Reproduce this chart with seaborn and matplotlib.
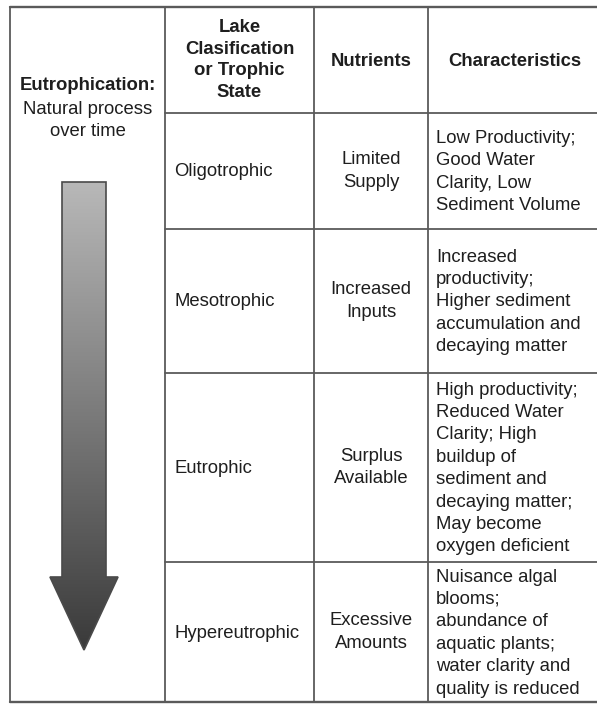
import numpy as np
import matplotlib
matplotlib.use("Agg")
import matplotlib.pyplot as plt
from matplotlib.patches import Polygon
from matplotlib.colors import LinearSegmentedColormap
import seaborn as sns

# table content
headers = ["Lake\nClasification\nor Trophic\nState", "Nutrients", "Characteristics"]
states = ["Oligotrophic", "Mesotrophic", "Eutrophic", "Hypereutrophic"]
nutrients = ["Limited\nSupply", "Increased\nInputs", "Surplus\nAvailable", "Excessive\nAmounts"]
characteristics = [
    ["Low Productivity;", "Good Water", "Clarity, Low", "Sediment Volume"],
    ["Increased", "productivity;", "Higher sediment", "accumulation and", "decaying matter"],
    ["High productivity;", "Reduced Water", "Clarity; High", "buildup of", "sediment and",
     "decaying matter;", "May become", "oxygen deficient"],
    ["Nuisance algal", "blooms;", "abundance of", "aquatic plants;", "water clarity and",
     "quality is reduced"],
]
side_title = "Eutrophication:"
side_lines = ["Natural process", "over time"]

# layout (pixels)
W, H = 597, 704
col_x = [10, 165, 314, 428, 600]
row_y = [7, 113, 229, 373, 562, 702]
line_step = 22.4
fs = 13.3
txt = "#1e1e1e"
grid = "#5a5a5a"

sns.set_theme(style="white")
plt.rcParams['font.family'] = ['Liberation Sans', 'DejaVu Sans']

fig = plt.figure(figsize=(W / 100, H / 100), dpi=100)
ax = fig.add_axes([0, 0, 1, 1])
ax.set_xlim(0, W)
ax.set_ylim(H, 0)
ax.axis("off")

# grid lines
for x in col_x[:-1]:
    ax.plot([x, x], [row_y[0], row_y[-1]], color=grid, lw=1.3)
ax.plot([col_x[0], W], [row_y[0], row_y[0]], color=grid, lw=1.7)
ax.plot([col_x[0], W], [row_y[-1], row_y[-1]], color=grid, lw=1.7)
for y in row_y[1:-1]:
    ax.plot([col_x[1], W], [y, y], color=grid, lw=1.3)


def lines_block(x, yc, lines, ha, weight="normal", step=line_step):
    n = len(lines)
    for i, s in enumerate(lines):
        y = yc + (i - (n - 1) / 2) * step
        ax.text(x, y, s, ha=ha, va="center", fontsize=fs, color=txt, fontweight=weight)


# header row
hc = (row_y[0] + row_y[1]) / 2
lines_block((col_x[1] + col_x[2]) / 2, hc, headers[0].split("\n"), "center", "bold", 21.7)
lines_block((col_x[2] + col_x[3]) / 2, hc + 2, [headers[1]], "center", "bold")
lines_block(515, hc + 2, [headers[2]], "center", "bold")

# body rows
for i in range(len(states)):
    yc = (row_y[i + 1] + row_y[i + 2]) / 2
    ax.text(col_x[1] + 9, yc + 1, states[i], ha="left", va="center", fontsize=fs, color=txt)
    lines_block((col_x[2] + col_x[3]) / 2, yc, nutrients[i].split("\n"), "center")
    lines_block(col_x[3] + 8, yc + 1, characteristics[i], "left")

# left column text
cx = (col_x[0] + col_x[1]) / 2
ax.text(cx, 86, side_title, ha="center", va="center", fontsize=fs, color=txt, fontweight="bold")
for i, s in enumerate(side_lines):
    ax.text(cx, 109 + i * line_step, s, ha="center", va="center", fontsize=fs, color=txt)

# gradient arrow
arrow_pts = [(62, 182), (106, 182), (106, 577), (118, 577), (84, 650),
             (50, 577), (62, 577)]
arrow = Polygon(arrow_pts, closed=True, facecolor="none", edgecolor="#4a4a4a", lw=1.2, zorder=3)
ax.add_patch(arrow)
cmap = LinearSegmentedColormap.from_list("arr", ["#b8b8b8", "#7a7a7a", "#3a3a3a"])
grad = np.linspace(0, 1, 256).reshape(-1, 1)
im = ax.imshow(grad, cmap=cmap, extent=[50, 118, 650, 182], aspect="auto", zorder=2)
im.set_clip_path(arrow)
ax.set_xlim(0, W)
ax.set_ylim(H, 0)

fig.savefig("out.png", dpi=100, facecolor="white")
